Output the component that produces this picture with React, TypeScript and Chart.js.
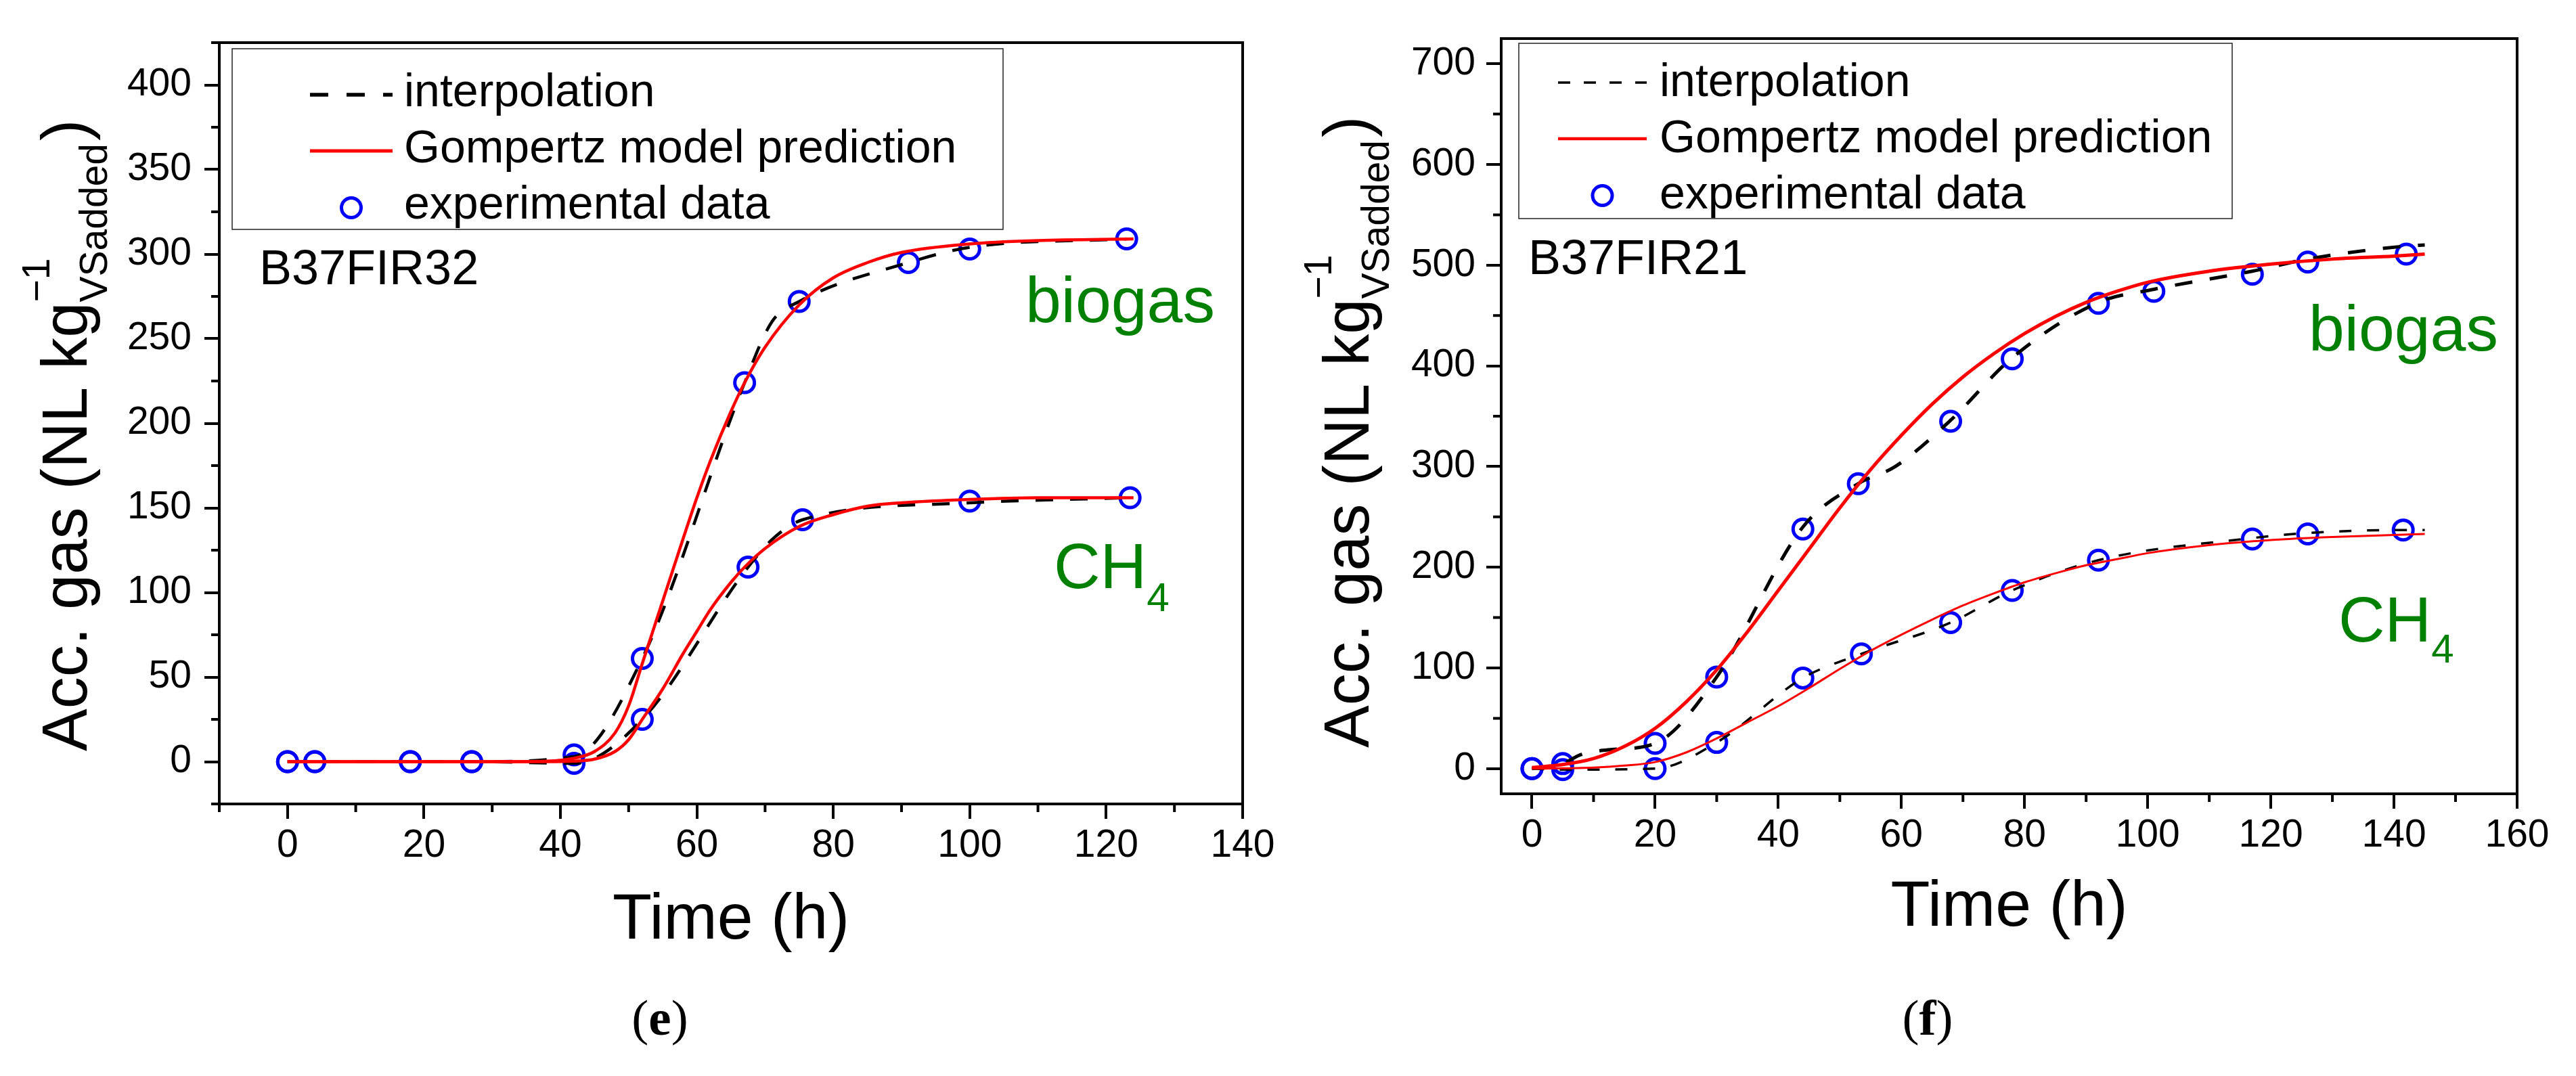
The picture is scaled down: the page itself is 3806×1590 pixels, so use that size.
import React, { useEffect, useRef } from "react";
import { Chart, registerables } from "chart.js";

Chart.register(...registerables);

const FONT = '"Liberation Sans", Arial, Helvetica, sans-serif';
const SERIF = '"Liberation Serif", "Times New Roman", serif';
const RED = "#FF0000";
const BLUE = "#0000FF";
const GREEN = "#008000";

// ---------------- Panel (e): B37FIR32 ----------------
const E_TIME_BIOGAS = [0, 4, 18, 27, 42, 52, 67, 75, 91, 100, 123];
const E_BIOGAS = [0, 0, 0, 0, 4, 61, 224, 272, 295, 303, 309];
const E_TIME_CH4 = [0, 4, 18, 27, 42, 52, 67.5, 75.5, 100, 123.5];
const E_CH4 = [0, 0, 0, 0, -1, 25, 115, 143, 154, 156];

const E_INTERP_TIME_BIOGAS = [0, 4, 18, 27, 42, 52, 67, 71, 75, 91, 100, 123];
const E_INTERP_BIOGAS = [0, 0, 0, 0, 3, 61, 224, 260, 272, 295, 304, 309];
const E_INTERP_TIME_CH4 = [0, 4, 18, 27, 42, 52, 67.5, 71.5, 75.5, 100, 123.5];
const E_INTERP_CH4 = [0, 0, 0, 0, -1, 25, 115, 133, 143, 153, 156];

const E_MODEL_TIME = [0, 10, 20, 30, 38, 42, 45, 48, 50, 52, 55, 58, 60, 62, 65, 67, 70, 75, 80, 85, 90, 100, 110, 124];
const E_MODEL_BIOGAS = [0, 0, 0, 0, 0.3, 2, 6, 17, 33, 58, 95, 132, 156, 178, 207, 224, 245, 270, 286, 295, 301, 306, 308, 309];
const E_MODEL_CH4 = [0, 0, 0, 0, 0, 0.3, 1.5, 6, 13, 25, 43, 64, 77, 90, 106, 115, 126, 139, 146, 151, 153, 155, 156, 156];

const E_X_TICKS = [0, 20, 40, 60, 80, 100, 120, 140];
const E_X_MINOR = [-10, 10, 30, 50, 70, 90, 110, 130];
const E_Y_TICKS = [0, 50, 100, 150, 200, 250, 300, 350, 400];
const E_Y_MINOR = [-25, 25, 75, 125, 175, 225, 275, 325, 375, 425];

// ---------------- Panel (f): B37FIR21 ----------------
const F_TIME_BIOGAS = [0, 5, 20, 30, 44, 53, 68, 78, 92, 101, 117, 126, 142];
const F_BIOGAS = [0, 5, 25, 91, 238, 283, 345, 407, 462, 474, 491, 503, 511];
const F_TIME_CH4 = [0, 5, 20, 30, 44, 53.5, 68, 78, 92, 117, 126, 141.5];
const F_CH4 = [0, -1, 0, 26, 90, 114, 145, 177, 207, 228, 233, 237];

const F_INTERP_TIME_BIOGAS = [0, 5, 8, 13, 20, 30, 44, 53, 59, 68, 78, 92, 101, 117, 126, 142, 145];
const F_INTERP_BIOGAS = [0, 5, 14, 19, 25, 91, 240, 283, 300, 346, 408, 463, 476, 494, 506, 519, 520];
const F_INTERP_TIME_CH4 = [0, 5, 20, 30, 44, 53.5, 68, 78, 92, 117, 126, 142, 145];
const F_INTERP_CH4 = [0, -1, 0, 26, 90, 114, 145, 177, 207, 229, 234, 237, 237];

const F_MODEL_TIME = [0, 5, 10, 15, 20, 25, 30, 35, 40, 45, 50, 55, 60, 65, 70, 75, 80, 85, 90, 95, 100, 110, 120, 130, 140, 145];
const F_MODEL_BIOGAS = [1, 4, 10, 22, 40, 66, 98, 136, 177, 218, 259, 297, 331, 362, 389, 412, 432, 449, 463, 474, 483, 494, 501, 506, 509, 511];
const F_MODEL_CH4 = [0, 0.3, 1, 3, 6.5, 16, 30, 46, 62, 80, 99, 117, 133, 148, 162, 174, 185, 194, 202, 208, 214, 222, 227, 230, 232, 233];

const F_X_TICKS = [0, 20, 40, 60, 80, 100, 120, 140, 160];
const F_X_MINOR = [10, 30, 50, 70, 90, 110, 130, 150];
const F_Y_TICKS = [0, 100, 200, 300, 400, 500, 600, 700];
const F_Y_MINOR = [50, 150, 250, 350, 450, 550, 650];

// ---------------- Text ----------------
const LEGEND_LABELS = ["interpolation", "Gompertz model prediction", "experimental data"];
const Y_TITLE_MAIN = "Acc. gas (NL kg";
const Y_TITLE_SUP = "\u22121";
const Y_TITLE_SUB = "VSadded";
const Y_TITLE_CLOSE = ")";
const X_TITLE = "Time (h)";
const LABEL_BIOGAS = "biogas";
const LABEL_CH = "CH";
const LABEL_CH_SUB = "4";

const CANVAS_W = 1903;
const CANVAS_H = 1590;

type Panel = {
  sample: string;
  caption: string;
  captionX: number;
  padTop: number;
  padRight: number;
  yAxisWidth: number;
  xAxisHeight: number;
  xMin: number;
  xMax: number;
  yMin: number;
  yMax: number;
  xTicks: number[];
  xMinor: number[];
  yTicks: number[];
  yMinor: number[];
  yLabelPad: number;
  xLabelPad: number;
  yTitleX: number;
  yTitleY: number;
  xTitleDy: number;
  legend: {
    x0: number; y0: number; x1: number; y1: number;
    sym0: number; sym1: number; textX: number;
    baselines: number[]; symDy: number;
    dash: number[]; dashW: number; redW: number;
  };
  sampleX: number;
  sampleY: number;
  biogasX: number;
  biogasY: number;
  ch4X: number;
  ch4Y: number;
  ch4SubDy: number;
  redBio: number;
  redCh4: number;
  dashBio: number;
  dashCh4: number;
  dashPatBio: number[];
  dashPatCh4: number[];
  tBio: number[]; bio: number[];
  tCh4: number[]; ch4: number[];
  tIBio: number[]; iBio: number[];
  tICh4: number[]; iCh4: number[];
  tModel: number[]; mBio: number[]; mCh4: number[];
};

const PANEL_E: Panel = {
  sample: "B37FIR32",
  caption: "e",
  captionX: 975,
  padTop: 63,
  padRight: 67,
  yAxisWidth: 324,
  xAxisHeight: CANVAS_H - 1188,
  xMin: -10,
  xMax: 140,
  yMin: -25,
  yMax: 425,
  xTicks: E_X_TICKS,
  xMinor: E_X_MINOR,
  yTicks: E_Y_TICKS,
  yMinor: E_Y_MINOR,
  yLabelPad: 19,
  xLabelPad: 6,
  yTitleX: 128,
  yTitleY: 1110,
  xTitleDy: 199,
  legend: {
    x0: 343, y0: 72, x1: 1482, y1: 339,
    sym0: 458, sym1: 580, textX: 597,
    baselines: [157, 240, 323], symDy: 17,
    dash: [27, 27], dashW: 5.5, redW: 5,
  },
  sampleX: 383,
  sampleY: 420,
  biogasX: 1515,
  biogasY: 476,
  ch4X: 1557,
  ch4Y: 869,
  ch4SubDy: 34,
  redBio: 4.5,
  redCh4: 4.5,
  dashBio: 4.5,
  dashCh4: 4.5,
  dashPatBio: [26, 25],
  dashPatCh4: [26, 25],
  tBio: E_TIME_BIOGAS, bio: E_BIOGAS,
  tCh4: E_TIME_CH4, ch4: E_CH4,
  tIBio: E_INTERP_TIME_BIOGAS, iBio: E_INTERP_BIOGAS,
  tICh4: E_INTERP_TIME_CH4, iCh4: E_INTERP_CH4,
  tModel: E_MODEL_TIME, mBio: E_MODEL_BIOGAS, mCh4: E_MODEL_CH4,
};

const PANEL_F: Panel = {
  sample: "B37FIR21",
  caption: "f",
  captionX: 2848,
  padTop: 57,
  padRight: CANVAS_W - 1816,
  yAxisWidth: 315,
  xAxisHeight: CANVAS_H - 1173,
  xMin: -5,
  xMax: 160,
  yMin: -25,
  yMax: 725,
  xTicks: F_X_TICKS,
  xMinor: F_X_MINOR,
  yTicks: F_Y_TICKS,
  yMinor: F_Y_MINOR,
  yLabelPad: 16,
  xLabelPad: 6,
  yTitleX: 119,
  yTitleY: 1105,
  xTitleDy: 195,
  legend: {
    x0: 341, y0: 64, x1: 1395, y1: 323,
    sym0: 399, sym1: 530, textX: 549,
    baselines: [142, 225, 308], symDy: 20,
    dash: [18, 20], dashW: 3.5, redW: 4.5,
  },
  sampleX: 355,
  sampleY: 405,
  biogasX: 1508,
  biogasY: 518,
  ch4X: 1552,
  ch4Y: 948,
  ch4SubDy: 31,
  redBio: 5,
  redCh4: 3,
  dashBio: 5,
  dashCh4: 3.5,
  dashPatBio: [26, 26],
  dashPatCh4: [18, 23],
  tBio: F_TIME_BIOGAS, bio: F_BIOGAS,
  tCh4: F_TIME_CH4, ch4: F_CH4,
  tIBio: F_INTERP_TIME_BIOGAS, iBio: F_INTERP_BIOGAS,
  tICh4: F_INTERP_TIME_CH4, iCh4: F_INTERP_CH4,
  tModel: F_MODEL_TIME, mBio: F_MODEL_BIOGAS, mCh4: F_MODEL_CH4,
};

const pts = (xs: number[], ys: number[]) => xs.map((x, i) => ({ x, y: ys[i] }));

function makeDecor(p: Panel) {
  return {
    id: "decor_" + p.caption,
    afterDraw(chart: any) {
      const ctx: CanvasRenderingContext2D = chart.ctx;
      const { left, top, right, bottom } = chart.chartArea;
      const xs = chart.scales.x;
      const ys = chart.scales.y;
      ctx.save();
      ctx.setLineDash([]);
      // frame
      ctx.strokeStyle = "#000";
      ctx.lineWidth = 4;
      ctx.strokeRect(left, top, right - left, bottom - top);
      // minor ticks
      ctx.beginPath();
      for (const v of p.xMinor) {
        const px = xs.getPixelForValue(v);
        ctx.moveTo(px, bottom);
        ctx.lineTo(px, bottom + 12);
      }
      for (const v of p.yMinor) {
        const py = ys.getPixelForValue(v);
        ctx.moveTo(left, py);
        ctx.lineTo(left - 12, py);
      }
      ctx.stroke();

      // legend
      const L = p.legend;
      ctx.fillStyle = "#fff";
      ctx.fillRect(L.x0, L.y0, L.x1 - L.x0, L.y1 - L.y0);
      ctx.strokeStyle = "#222";
      ctx.lineWidth = 1.5;
      ctx.strokeRect(L.x0, L.y0, L.x1 - L.x0, L.y1 - L.y0);
      // row 1 dashed
      ctx.strokeStyle = "#000";
      ctx.lineWidth = L.dashW;
      ctx.setLineDash(L.dash);
      ctx.beginPath();
      ctx.moveTo(L.sym0, L.baselines[0] - L.symDy);
      ctx.lineTo(L.sym1, L.baselines[0] - L.symDy);
      ctx.stroke();
      ctx.setLineDash([]);
      // row 2 red
      ctx.strokeStyle = RED;
      ctx.lineWidth = L.redW;
      ctx.beginPath();
      ctx.moveTo(L.sym0, L.baselines[1] - L.symDy);
      ctx.lineTo(L.sym1, L.baselines[1] - L.symDy);
      ctx.stroke();
      // row 3 circle
      ctx.strokeStyle = BLUE;
      ctx.lineWidth = 5;
      ctx.beginPath();
      ctx.arc((L.sym0 + L.sym1) / 2, L.baselines[2] - L.symDy + 1, 14.5, 0, Math.PI * 2);
      ctx.stroke();
      // legend text
      ctx.fillStyle = "#000";
      ctx.font = `68px ${FONT}`;
      ctx.textAlign = "left";
      ctx.textBaseline = "alphabetic";
      LEGEND_LABELS.forEach((t, i) => ctx.fillText(t, L.textX, L.baselines[i]));

      // sample name
      ctx.font = `72px ${FONT}`;
      ctx.fillText(p.sample, p.sampleX, p.sampleY);

      // curve labels
      ctx.fillStyle = GREEN;
      ctx.font = `95px ${FONT}`;
      ctx.fillText(LABEL_BIOGAS, p.biogasX, p.biogasY);
      ctx.fillText(LABEL_CH, p.ch4X, p.ch4Y);
      const chW = ctx.measureText(LABEL_CH).width;
      ctx.font = `60px ${FONT}`;
      ctx.fillText(LABEL_CH_SUB, p.ch4X + chW, p.ch4Y + p.ch4SubDy);

      // x title
      ctx.fillStyle = "#000";
      ctx.font = `95px ${FONT}`;
      ctx.textAlign = "center";
      ctx.fillText(X_TITLE, (left + right) / 2, bottom + p.xTitleDy);

      // y title (rotated)
      ctx.save();
      ctx.translate(p.yTitleX, p.yTitleY);
      ctx.rotate(-Math.PI / 2);
      ctx.textAlign = "left";
      ctx.font = `94px ${FONT}`;
      ctx.fillText(Y_TITLE_MAIN, 0, 0);
      let x = ctx.measureText(Y_TITLE_MAIN).width;
      ctx.font = `57px ${FONT}`;
      ctx.fillText(Y_TITLE_SUP, x, -55);
      ctx.fillText(Y_TITLE_SUB, x, 30);
      const w = Math.max(ctx.measureText(Y_TITLE_SUP).width, ctx.measureText(Y_TITLE_SUB).width);
      x += w + 4;
      ctx.font = `94px ${FONT}`;
      ctx.fillText(Y_TITLE_CLOSE, x, 0);
      ctx.restore();

      ctx.restore();
    },
  };
}

function PanelChart({ p, left }: { p: Panel; left: number }) {
  const ref = useRef<HTMLCanvasElement | null>(null);
  useEffect(() => {
    if (!ref.current) return;
    const tickFont = { family: FONT, size: 57 };
    const gridCommon = {
      display: true,
      drawOnChartArea: false,
      drawTicks: true,
      tickLength: 22,
      tickWidth: 4,
      tickColor: "#000",
      color: "#000",
      lineWidth: 4,
    };
    const lineDs = (data: any, color: string, width: number, dash: number[] | null, order: number) => ({
      data,
      showLine: true,
      borderColor: color,
      backgroundColor: color,
      borderWidth: width,
      borderDash: dash || [],
      pointRadius: 0,
      pointHoverRadius: 0,
      fill: false,
      cubicInterpolationMode: "monotone",
      order,
    });
    const ptDs = (data: any) => ({
      data,
      showLine: false,
      pointStyle: "circle",
      pointRadius: 14.5,
      pointHoverRadius: 14.5,
      pointBorderWidth: 5,
      pointBorderColor: BLUE,
      pointBackgroundColor: "rgba(0,0,0,0)",
      borderColor: BLUE,
      backgroundColor: "rgba(0,0,0,0)",
      order: 2,
    });
    const chart = new Chart(ref.current, {
      type: "scatter",
      data: {
        datasets: [
          lineDs(pts(p.tModel, p.mBio), RED, p.redBio, null, 0),
          lineDs(pts(p.tModel, p.mCh4), RED, p.redCh4, null, 0),
          lineDs(pts(p.tIBio, p.iBio), "#000", p.dashBio, p.dashPatBio, 1),
          lineDs(pts(p.tICh4, p.iCh4), "#000", p.dashCh4, p.dashPatCh4, 1),
          ptDs(pts(p.tBio, p.bio)),
          ptDs(pts(p.tCh4, p.ch4)),
        ] as any,
      },
      options: {
        animation: false,
        responsive: false,
        maintainAspectRatio: false,
        devicePixelRatio: 1,
        events: [],
        layout: { padding: { top: p.padTop, right: p.padRight, bottom: 0, left: 0 } },
        plugins: {
          legend: { display: false },
          tooltip: { enabled: false },
          title: { display: false },
        },
        scales: {
          x: {
            type: "linear",
            position: "bottom",
            min: p.xMin,
            max: p.xMax,
            afterFit: (s: any) => { s.height = p.xAxisHeight; },
            afterBuildTicks: (s: any) => { s.ticks = p.xTicks.map((v) => ({ value: v })); },
            grid: gridCommon,
            border: { display: false },
            ticks: {
              font: tickFont,
              color: "#000",
              padding: p.xLabelPad,
              maxRotation: 0,
              minRotation: 0,
              autoSkip: false,
              callback: (v: any) => String(v),
            },
          },
          y: {
            type: "linear",
            position: "left",
            min: p.yMin,
            max: p.yMax,
            afterFit: (s: any) => { s.width = p.yAxisWidth; },
            afterBuildTicks: (s: any) => { s.ticks = p.yTicks.map((v) => ({ value: v })); },
            grid: gridCommon,
            border: { display: false },
            ticks: {
              font: tickFont,
              color: "#000",
              padding: p.yLabelPad,
              autoSkip: false,
              callback: (v: any) => String(v),
            },
          },
        },
      } as any,
      plugins: [makeDecor(p)],
    });
    return () => chart.destroy();
  }, [p]);
  return (
    <canvas
      ref={ref}
      width={CANVAS_W}
      height={CANVAS_H}
      style={{ position: "absolute", left, top: 0, width: CANVAS_W, height: CANVAS_H }}
    />
  );
}

function Caption({ letter, cx }: { letter: string; cx: number }) {
  return (
    <div
      style={{
        position: "absolute",
        left: cx - 100,
        width: 200,
        top: 1466,
        textAlign: "center",
        fontFamily: SERIF,
        fontSize: 75,
        lineHeight: "75px",
        color: "#000",
      }}
    >
      (<b>{letter}</b>)
    </div>
  );
}

export default function App() {
  useEffect(() => {
    document.body.style.margin = "0";
  }, []);
  return (
    <div
      style={{
        position: "fixed",
        left: 0,
        top: 0,
        width: 3806,
        height: 1590,
        background: "#fff",
        overflow: "hidden",
      }}
    >
      <PanelChart p={PANEL_E} left={0} />
      <PanelChart p={PANEL_F} left={1903} />
      <Caption letter={PANEL_E.caption} cx={PANEL_E.captionX} />
      <Caption letter={PANEL_F.caption} cx={PANEL_F.captionX} />
    </div>
  );
}
